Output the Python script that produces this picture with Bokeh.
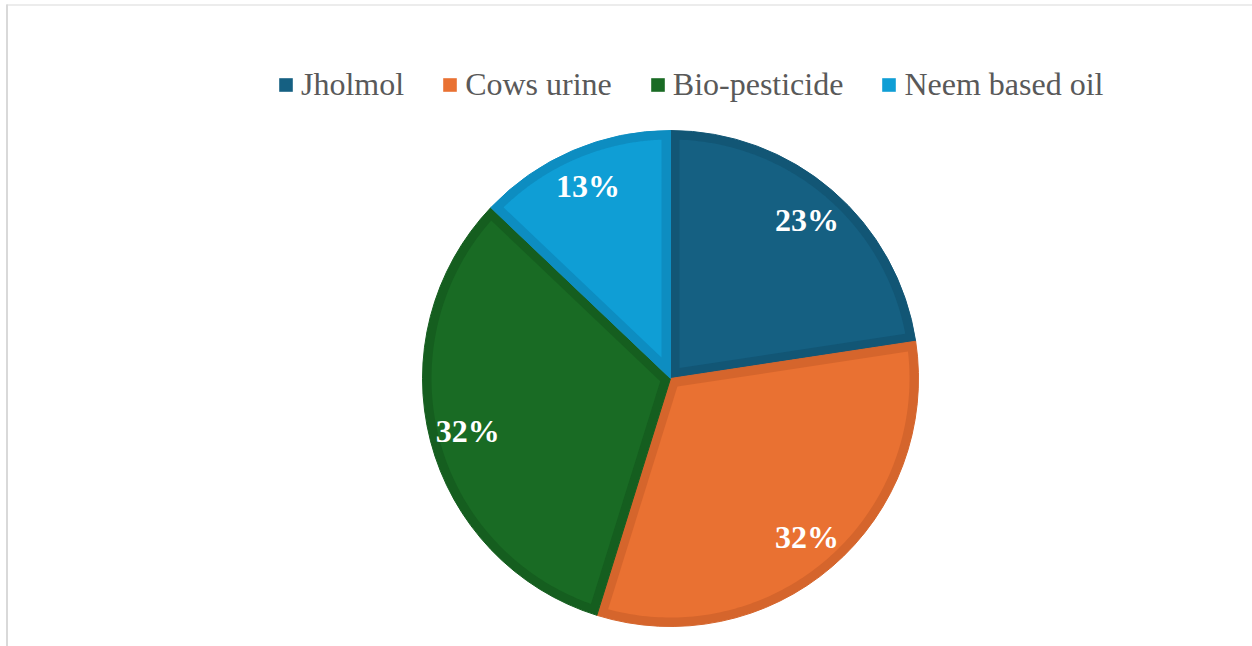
import numpy as np
from bokeh.plotting import figure
from bokeh.models import Legend, LegendItem, ColumnDataSource
from bokeh.core.properties import value
from bokeh.embed import file_html
from bokeh.resources import INLINE

# ---- data ----
categories = ["Jholmol", "Cows urine", "Bio-pesticide", "Neem based oil"]
shares = [22.6, 32.2, 32.3, 12.9]
fill_colors = ["#156082", "#E97132", "#196B24", "#0F9ED5"]
edge_colors = ["#125675", "#D5652C", "#155E1F", "#0D8DC1"]

W, H = 1252, 646
CX, CY = 670, H - 378
R = 248
BORDER = 9

p = figure(width=W, height=H, x_range=(0, W), y_range=(0, H),
           output_backend="svg", toolbar_location=None, min_border=0)
p.axis.visible = False
p.grid.visible = False
p.outline_line_color = None
p.background_fill_color = "white"
p.border_fill_color = "white"

# frame lines
p.line([6.5, 6.5], [0, H - 4], line_color="#d9d9d9", line_width=2)
p.line([6, W], [H - 4.5, H - 4.5], line_color="#d9d9d9", line_width=1)

total = sum(shares)
cum = np.concatenate([[0], np.cumsum(shares)]) / total
end_angles = np.pi / 2 - cum[:-1] * 2 * np.pi
start_angles = np.pi / 2 - cum[1:] * 2 * np.pi

# outer wedges (border colour)
src = ColumnDataSource(dict(start=start_angles, end=end_angles,
                            color=edge_colors))
p.wedge(x=CX, y=CY, radius=R, start_angle="start", end_angle="end",
        fill_color="color", line_color="color", line_width=1, source=src)

# inner inset patches (main fill)
renderers = []
rho = R - BORDER
for a0, a1, fc, name in zip(start_angles, end_angles, fill_colors, categories):
    span = a1 - a0
    b = (a0 + a1) / 2
    s = BORDER / np.sin(span / 2)
    ax, ay = CX + s * np.cos(b), CY + s * np.sin(b)
    off = np.arcsin(BORDER / rho)
    t = np.linspace(a0 + off, a1 - off, 120)
    xs = np.concatenate([[ax], CX + rho * np.cos(t)])
    ys = np.concatenate([[ay], CY + rho * np.sin(t)])
    r = p.patch(xs, ys, fill_color=fc, line_color=None)
    renderers.append(r)

# percentage labels
mid = (start_angles + end_angles) / 2
LR = 0.845 * R
labels = [f"{round(v / total * 100)}%" for v in shares]
p.text(x=CX + LR * np.cos(mid), y=CY + LR * np.sin(mid), text=labels,
       text_color="white", text_font=value("Liberation Serif"),
       text_font_style="bold", text_font_size="32px",
       text_align="center", text_baseline="middle")

legend = Legend(items=[LegendItem(label=c, renderers=[r]) for c, r in zip(categories, renderers)],
                orientation="horizontal", location=(277, H - 103),
                label_text_font="Liberation Serif", label_text_font_size="32px",
                label_text_color="#595959", glyph_width=17, glyph_height=17,
                label_standoff=7, spacing=37, padding=0, margin=0,
                border_line_color=None, background_fill_alpha=0)
p.add_layout(legend, "center")

open("out.html", "w").write(file_html(p, INLINE))
